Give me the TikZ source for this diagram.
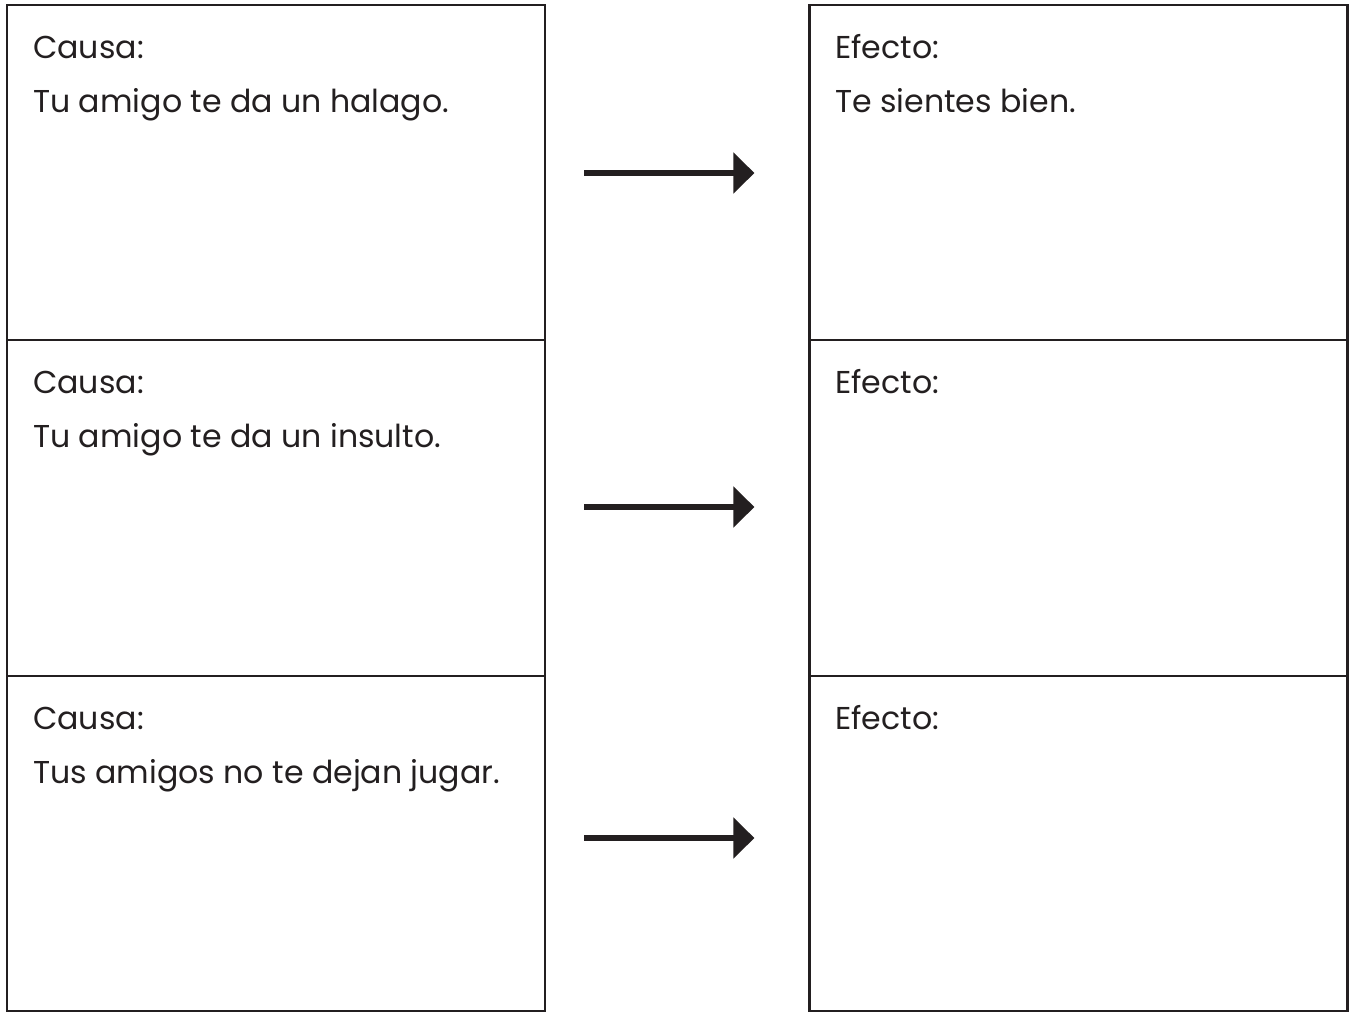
\documentclass[tikz,border=0pt]{standalone}
\usepackage{fontspec}
\setmainfont{Poppins}
\usetikzlibrary{arrows.meta}
\definecolor{ink}{HTML}{231F20}
\tikzset{
  x=1pt, y=-1pt,
  cell/.style={draw=ink, line width=2.2pt, minimum width=538pt, minimum height=335.5pt, inner sep=0pt, fill=none},
  lbl/.style={anchor=base west, inner sep=0pt, text=ink, font=\fontsize{31.6}{37}\selectfont},
  flow/.style={draw=ink, line width=6.5pt, -{Triangle[length=21pt,width=40pt]}}
}
\begin{document}
\begin{tikzpicture}
\useasboundingbox (0,0) rectangle (1350,1013);
% cause boxes
\node[cell] (c1) at (276,172.5) {};
\node[cell] (c2) at (276,508) {};
\node[cell] (c3) at (276,843.5) {};
% effect boxes
\node[cell] (e1) at (1078.5,172.5) {};
\node[cell] (e2) at (1078.5,508) {};
\node[cell] (e3) at (1078.5,843.5) {};
% texts
\node[lbl] (c1a) at (33,58) {Causa:};
\node[lbl] (c1b) at (33,112) {Tu amigo te da un halago.};
\node[lbl] (c2a) at (33,393) {Causa:};
\node[lbl] (c2b) at (33,447) {Tu amigo te da un insulto.};
\node[lbl] (c3a) at (33,729) {Causa:};
\node[lbl] (c3b) at (33,783) {Tus amigos no te dejan jugar.};
\node[lbl] (e1a) at (835,58) {Efecto:};
\node[lbl] (e1b) at (835,112) {Te sientes bien.};
\node[lbl] (e2a) at (835,393) {Efecto:};
\node[lbl] (e3a) at (835,729) {Efecto:};
% arrows
\coordinate (a1s) at ([xshift=38pt,yshift=-0.5pt]c1.east);
\coordinate (a1e) at ([xshift=-54pt,yshift=-0.5pt]e1.west);
\coordinate (a2s) at ([xshift=38pt,yshift=1pt]c2.east);
\coordinate (a2e) at ([xshift=-54pt,yshift=1pt]e2.west);
\coordinate (a3s) at ([xshift=38pt,yshift=5.5pt]c3.east);
\coordinate (a3e) at ([xshift=-54pt,yshift=5.5pt]e3.west);
\draw[flow] (a1s) -- (a1e);
\draw[flow] (a2s) -- (a2e);
\draw[flow] (a3s) -- (a3e);
\end{tikzpicture}
\end{document}
